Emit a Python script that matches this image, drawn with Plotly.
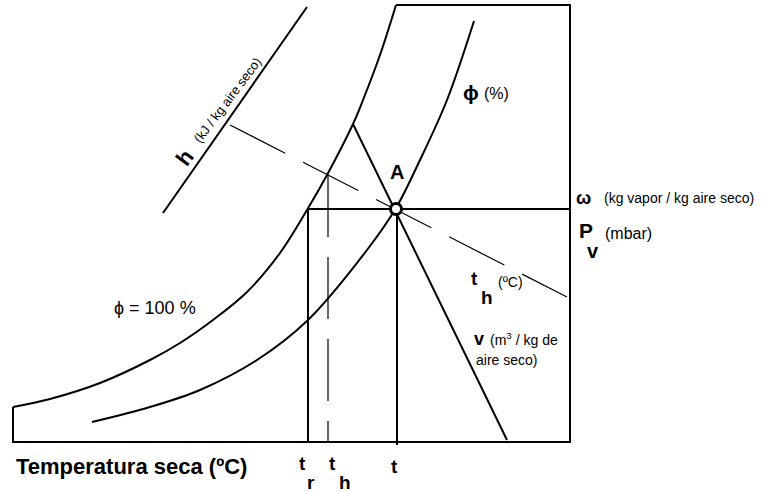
import plotly.graph_objects as go

# Diagram coordinates (schematic psychrometric chart, y measured downward)
sat_x = [13, 50, 100, 150, 180, 213, 247, 280, 307, 327, 353, 363, 380, 396]
sat_y = [407, 399, 383, 360, 343, 320, 292, 253, 210, 175, 124, 100, 55, 5]

phi_x = [92, 150, 200, 257, 308, 367, 396, 420, 447, 474]
phi_y = [422, 407, 390, 360, 320, 250, 208, 160, 100, 21]

frame_x = [13, 13, 570, 570, 396]
frame_y = [407, 442, 442, 5, 5]

enth_x = [163, 307]
enth_y = [213, 7]

wet_x = [230, 567]
wet_y = [125, 297]

vol_x = [353, 507]
vol_y = [124, 440]

omega_x = [308, 570]
omega_y = [209, 209]

tr_x = [308, 308]
tr_y = [209, 442]
th_x = [328, 328]
th_y = [175, 442]
t_x = [397, 397]
t_y = [208, 445]

A_x = [396]
A_y = [209]

FONT = "Liberation Sans, Arial, sans-serif"

fig = go.Figure()

def line(x, y, w=2, dash=None, shape="linear"):
    fig.add_trace(go.Scatter(x=x, y=y, mode="lines",
                             line=dict(color="black", width=w, dash=dash, shape=shape),
                             hoverinfo="skip", showlegend=False))

line(frame_x, frame_y, 2)
line(sat_x, sat_y, 2, shape="spline")
line(phi_x, phi_y, 2, shape="spline")
line(enth_x, enth_y, 2)
line(wet_x, wet_y, 1.2, dash="62px,20px")
line(vol_x, vol_y, 2)
line(omega_x, omega_y, 2)
line(tr_x, tr_y, 2)
line(th_x, th_y, 1.2, dash="62px,20px")
line(t_x, t_y, 2)

fig.add_trace(go.Scatter(x=A_x, y=A_y, mode="markers",
                         marker=dict(size=11, color="white", line=dict(color="black", width=3)),
                         hoverinfo="skip", showlegend=False))

def txt(x, y, s, size=12, bold=False, angle=0, xa="left", ya="middle"):
    if bold:
        s = "<b>" + s + "</b>"
    fig.add_annotation(x=x, y=y, text=s, showarrow=False, textangle=angle,
                       xanchor=xa, yanchor=ya,
                       font=dict(family=FONT, size=size, color="black"))

# enthalpy label (rotated)
txt(184, 158, "h", 22, True, angle=-53, xa="center")
txt(227, 100, "(kJ / kg aire seco)", 13, angle=-53, xa="center")

txt(471, 92, "ϕ", 21, True, xa="center")
txt(482, 93, "(%)", 16)
txt(397, 172, "A", 20, True, xa="center")
txt(583, 198, "ω", 18, True, xa="center")
txt(602, 198, "(kg vapor / kg aire seco)", 14)
txt(586, 230, "P", 21, True, xa="center")
txt(593, 251, "v", 20, True, xa="center")
txt(603, 233, "(mbar)", 16)
txt(474, 278, "t", 19, True, xa="center")
txt(487, 297, "h", 19, True, xa="center")
txt(496, 282, "(ºC)", 14)
txt(479, 339, "v", 18, True, xa="center")
txt(488, 339, "(m<sup>3</sup> / kg de", 14)
txt(474, 360, "aire seco)", 14)
txt(112, 308, "ϕ = 100 %", 18)
txt(14, 466, "Temperatura seca (ºC)", 22, True)
txt(302, 463, "t", 19, True, xa="center")
txt(311, 482, "r", 19, True, xa="center")
txt(332, 463, "t", 19, True, xa="center")
txt(345, 482, "h", 19, True, xa="center")
txt(394, 466, "t", 19, True, xa="center")

fig.update_layout(width=761, height=492, margin=dict(l=0, r=0, t=0, b=0),
                  paper_bgcolor="white", plot_bgcolor="white",
                  xaxis=dict(range=[0, 761], visible=False, fixedrange=True),
                  yaxis=dict(range=[492, 0], visible=False, fixedrange=True))

fig.write_html("out.html", config={"displayModeBar": False},
               post_script="document.body.style.margin='0';document.body.style.overflow='hidden';")
